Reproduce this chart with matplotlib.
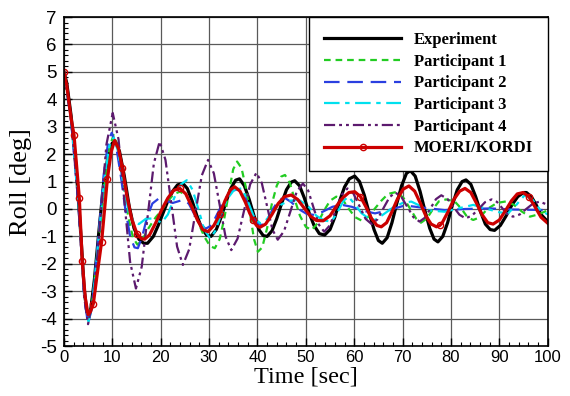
import matplotlib
matplotlib.use("Agg")
import matplotlib.pyplot as plt
from matplotlib.lines import Line2D
from matplotlib.ticker import MultipleLocator

plt.rcParams['axes.unicode_minus'] = False

# time [s], roll [deg]
exp_t = [0, 0.6, 1.5, 2.5, 3.5, 4.2, 4.7, 5.1, 5.6, 6.3, 7.2, 8.2, 9.2, 10.0, 10.7, 11.5, 12.5,
         13.5, 14.5, 15.5, 16.5, 17.3, 18.5, 19.5, 20.5, 21.5, 22.5, 23.5, 24.6, 25.5, 26.5,
         27.5, 28.5, 29.5, 30.4, 31.5, 32.5, 33.5, 34.5, 35.5, 36.3, 37.3, 38.3, 39.3, 40.3,
         41.2, 42.0, 43.0, 44.0, 45.0, 46.0, 47.0, 47.7, 48.7, 49.7, 50.7, 51.7, 52.8, 53.9,
         55.0, 56.0, 57.0, 58.0, 59.0, 60.1, 61.1, 62.1, 63.1, 64.1, 65.0, 65.8, 66.8, 67.8,
         68.8, 69.8, 70.8, 71.6, 72.6, 73.6, 74.6, 75.6, 76.5, 77.3, 78.3, 79.3, 80.3, 81.3,
         82.3, 83.1, 84.1, 85.1, 86.1, 87.1, 88.1, 89.0, 90.2, 91.4, 92.6, 93.8, 95.0, 95.6,
         96.6, 97.6, 98.6, 100]
exp_v = [5.0, 4.6, 3.4, 1.6, -0.9, -2.9, -3.7, -3.95, -3.6, -2.6, -0.9, 0.9, 2.0, 2.4, 2.45,
         2.1, 1.2, 0.1, -0.7, -1.1, -1.25, -1.25, -1.0, -0.6, -0.15, 0.3, 0.65, 0.88, 0.93,
         0.75, 0.3, -0.25, -0.7, -0.95, -1.0, -0.75, -0.3, 0.25, 0.75, 1.05, 1.1, 0.85, 0.35,
         -0.25, -0.75, -0.97, -1.0, -0.8, -0.35, 0.2, 0.7, 0.98, 1.03, 0.85, 0.4, -0.15, -0.6,
         -0.9, -0.95, -0.75, -0.3, 0.3, 0.8, 1.1, 1.2, 1.0, 0.5, -0.15, -0.75, -1.15, -1.25,
         -1.05, -0.5, 0.2, 0.85, 1.3, 1.4, 1.2, 0.65, -0.05, -0.7, -1.1, -1.2, -1.0, -0.5, 0.15,
         0.7, 1.0, 1.06, 0.9, 0.45, -0.1, -0.55, -0.75, -0.78, -0.6, -0.25, 0.15, 0.45, 0.6,
         0.6, 0.45, 0.15, -0.2, -0.46]

p1_t = [0, 1.5, 3.0, 4.2, 5.0, 5.8, 7.0, 8.5, 9.5, 10.3, 11.2, 12.3, 13.3, 14.3, 15.2, 16.3,
        17.5, 19.0, 20.2, 21.5, 22.8, 24.0, 25.3, 26.5, 27.8, 29.0, 30.2, 31.2, 32.2, 33.2,
        34.2, 35.0, 35.8, 36.7, 37.6, 38.5, 39.3, 40.1, 41.0, 42.0, 43.0, 44.0, 44.9, 45.7,
        46.7, 47.7, 48.8, 50.0, 51.2, 52.5, 53.8, 55.0, 56.3, 57.6, 58.9, 60.2, 61.5, 62.8,
        64.2, 65.6, 67.0, 68.7, 70.2, 71.6, 72.8, 73.8, 75.0, 76.3, 77.5, 79.0, 80.8, 82.2,
        83.4, 84.6, 86.0, 87.5, 89.5, 91.5, 93.0, 94.7, 96.3, 98.0, 100]
p1_v = [5.0, 3.3, 0.4, -3.0, -4.0, -3.5, -1.5, 1.0, 2.3, 2.7, 2.2, 1.0, -0.3, -1.05, -1.3,
        -1.1, -0.7, -0.3, -0.05, 0.3, 0.55, 0.63, 0.5, 0.1, -0.5, -1.0, -1.35, -1.43, -1.1,
        -0.3, 0.7, 1.45, 1.73, 1.5, 0.8, -0.2, -1.1, -1.56, -1.4, -0.7, 0.2, 0.85, 1.18, 1.24,
        0.95, 0.35, -0.25, -0.65, -0.77, -0.5, -0.05, 0.3, 0.45, 0.35, 0.0, -0.3, -0.42, -0.3,
        0.0, 0.3, 0.55, 0.62, 0.4, 0.0, -0.35, -0.5, -0.35, 0.0, 0.28, 0.35, 0.27, 0.0, -0.3,
        -0.4, -0.3, 0.0, 0.22, 0.28, 0.15, -0.1, -0.28, -0.2, -0.05]

p2_t = [0, 1.5, 3.0, 4.2, 5.0, 5.8, 7.0, 8.2, 9.2, 9.9, 10.7, 11.7, 12.7, 13.7, 14.6, 15.3,
        16.2, 17.2, 18.3, 19.6, 21.0, 22.5, 24.6, 25.8, 27.0, 28.2, 29.3, 30.5, 31.8, 33.2,
        34.6, 36.0, 37.3, 38.5, 39.6, 40.8, 42.0, 43.2, 44.5, 45.7, 47.0, 48.5, 50.2, 51.9,
        53.5, 55.5, 57.5, 59.5, 61.5, 64.3, 67.0, 70.5, 74.0, 78.7, 83.0, 88.0, 93.0, 100]
p2_v = [5.0, 3.2, 0.2, -3.2, -4.2, -3.6, -1.3, 1.2, 2.5, 2.78, 2.4, 1.3, 0.0, -1.0, -1.4,
        -1.43, -1.0, -0.3, 0.2, 0.38, 0.3, 0.22, 0.33, 0.2, -0.2, -0.55, -0.72, -0.6, -0.15,
        0.35, 0.65, 0.72, 0.5, 0.0, -0.45, -0.6, -0.4, 0.0, 0.35, 0.4, 0.25, 0.0, -0.18, -0.22,
        -0.1, 0.08, 0.15, 0.08, -0.05, -0.16, -0.05, 0.13, 0.05, -0.04, 0.0, 0.02, -0.02, -0.04]

p3_t = [0, 1.5, 3.0, 4.2, 5.1, 5.9, 7.0, 8.3, 9.4, 10.3, 11.2, 12.3, 13.4, 14.5, 15.5, 17.0,
        18.5, 20.2, 21.5, 22.8, 24.2, 25.4, 26.6, 27.8, 29.0, 30.2, 31.3, 32.5, 33.7, 35.2,
        36.7, 38.0, 39.2, 40.5, 41.8, 43.2, 44.8, 46.5, 48.6, 50.5, 52.2, 53.8, 55.3, 56.6,
        57.8, 58.8, 60.0, 61.5, 63.0, 64.3, 66.0, 68.0, 70.0, 71.8, 73.8, 75.5, 78.7, 81.0,
        84.6, 87.5, 90.0, 91.8, 93.5, 95.2, 96.8, 98.5, 100]
p3_v = [5.0, 3.3, 0.3, -3.1, -4.1, -3.5, -1.4, 1.0, 2.3, 2.6, 2.1, 0.9, -0.1, -0.5, -0.55,
        -0.35, -0.35, -0.5, -0.2, 0.4, 0.9, 1.05, 0.7, 0.0, -0.75, -1.07, -0.8, -0.2, 0.35,
        0.7, 0.75, 0.3, -0.25, -0.52, -0.4, -0.1, 0.15, 0.3, 0.33, 0.1, -0.25, -0.42, -0.46,
        -0.1, 0.3, 0.45, 0.2, -0.15, -0.35, -0.4, -0.2, 0.05, 0.22, 0.27, 0.1, -0.05, -0.1,
        0.0, 0.15, 0.0, -0.12, -0.16, 0.15, 0.5, 0.35, -0.05, -0.2]

p4_t = [0, 1.5, 3.0, 4.2, 5.0, 6.3, 7.55, 8.8, 10.1, 11.3, 12.5, 13.7, 14.9, 16.1, 17.35,
        18.6, 19.8, 21.0, 22.2, 23.4, 24.6, 25.9, 27.2, 28.5, 29.8, 31.0, 32.2, 33.4, 34.6,
        35.9, 37.2, 38.5, 39.8, 40.9, 42.0, 43.1, 44.2, 45.5, 46.8, 48.1, 49.4, 50.5, 51.6,
        52.7, 53.8, 55.0, 56.2, 57.4, 58.6, 59.85, 61.1, 62.35, 63.6, 64.8, 66.05, 67.3, 68.5,
        69.75, 71.0, 72.25, 73.5, 74.6, 75.75, 76.9, 78.0, 79.25, 80.5, 81.75, 83.0, 84.35,
        85.7, 87.05, 88.4, 89.5, 90.6, 91.7, 92.8, 94.2, 95.55, 96.9, 98.3, 100]
p4_v = [5.0, 3.3, 0.2, -3.2, -4.2, -3.05, -0.35, 2.35, 3.5, 2.54, 0.3, -1.94, -2.9, -2.1,
        -0.22, 1.66, 2.46, 1.79, 0.21, -1.37, -2.04, -1.47, -0.13, 1.22, 1.79, 1.3, 0.15, -1.0,
        -1.5, -1.08, -0.09, 0.9, 1.32, 0.95, 0.1, -0.75, -1.12, -0.81, -0.1, 0.62, 0.93, 0.67,
        0.05, -0.57, -0.83, -0.59, -0.04, 0.51, 0.75, 0.56, 0.1, -0.36, -0.55, -0.38, 0.03,
        0.43, 0.6, 0.44, 0.07, -0.3, -0.46, -0.32, 0.02, 0.36, 0.5, 0.37, 0.08, -0.21, -0.34,
        -0.24, 0.0, 0.25, 0.35, 0.26, 0.03, -0.19, -0.28, -0.2, 0.0, 0.19, 0.27, 0.15]

moeri_t = [0, 0.6, 1.5, 2.1, 3.2, 3.8, 4.4, 5.0, 5.5, 6.1, 6.8, 7.8, 9.0, 9.8, 10.5, 11.3,
           12.1, 13.0, 14.0, 15.1, 16.0, 16.7, 17.7, 19.0, 20.3, 21.5, 22.7, 24.0, 25.2, 26.4,
           27.6, 28.7, 29.8, 31.0, 32.2, 33.3, 34.4, 35.3, 36.4, 37.5, 38.4, 39.1, 39.8, 40.5,
           41.7, 43.0, 44.3, 45.6, 47.0, 48.3, 49.6, 50.9, 52.2, 53.6, 55.0, 56.3, 57.6, 58.9,
           60.1, 61.3, 62.5, 63.6, 64.7, 65.6, 66.7, 67.8, 68.9, 70.1, 71.3, 72.5, 73.7, 74.8,
           75.9, 77.0, 77.7, 78.2, 79.4, 80.6, 81.8, 82.9, 84.1, 85.3, 86.4, 87.6, 88.7, 90.0,
           91.3, 92.5, 93.7, 94.9, 96.1, 97.3, 98.6, 100]
moeri_v = [5.0, 4.5, 3.3, 2.7, 0.4, -1.9, -3.2, -3.85, -3.75, -3.45, -2.5, -1.2, 1.1, 2.1,
           2.5, 2.2, 1.5, 0.5, -0.35, -0.9, -1.08, -1.1, -0.95, -0.5, 0.0, 0.4, 0.68, 0.75,
           0.55, 0.1, -0.4, -0.75, -0.83, -0.6, -0.2, 0.3, 0.7, 0.81, 0.65, 0.25, -0.15, -0.4,
           -0.6, -0.67, -0.55, -0.2, 0.2, 0.45, 0.51, 0.35, 0.05, -0.25, -0.42, -0.43, -0.25,
           0.1, 0.4, 0.6, 0.63, 0.45, 0.05, -0.35, -0.6, -0.65, -0.5, -0.1, 0.35, 0.72, 0.84,
           0.65, 0.2, -0.25, -0.55, -0.65, -0.6, -0.5, -0.1, 0.35, 0.65, 0.75, 0.6, 0.2, -0.2,
           -0.5, -0.55, -0.4, -0.05, 0.3, 0.55, 0.6, 0.45, 0.1, -0.3, -0.52]
# samples that carry a circle marker
moeri_mark_t = [0, 2.1, 3.2, 3.8, 6.1, 7.8, 9.0, 12.1, 15.1, 24.0, 32.2, 39.1, 61.3, 77.7, 96.1]

labels = ['Experiment', 'Participant 1', 'Participant 2', 'Participant 3', 'Participant 4',
          'MOERI/KORDI']

fig = plt.figure(figsize=(5.7, 3.96), dpi=100)
ax = fig.add_axes([0.112, 0.126, 0.849, 0.831])

ax.plot(exp_t, exp_v, color='black', lw=2.3)
ax.plot(p1_t, p1_v, color='#22cc22', lw=1.6, dashes=(3, 2.2))
ax.plot(p2_t, p2_v, color='#2a3fe0', lw=1.6, dashes=(7, 3.5))
ax.plot(p3_t, p3_v, color='#00e0ee', lw=1.6, dashes=(7, 2.5, 2, 2.5))
ax.plot(p4_t, p4_v, color='#5c1a6e', lw=1.6, dashes=(5, 1.8, 1.3, 1.8, 1.3, 1.8))
ax.plot(moeri_t, moeri_v, color='#cc0000', lw=2.3)
mk_idx = [moeri_t.index(t) for t in moeri_mark_t]
ax.plot([moeri_t[i] for i in mk_idx], [moeri_v[i] for i in mk_idx], ls='none',
        marker='o', ms=4.5, mfc='none', mec='#cc0000', mew=1.0)

ax.set_xlim(0, 100)
ax.set_ylim(-5, 7)
ax.xaxis.set_major_locator(MultipleLocator(10))
ax.xaxis.set_minor_locator(MultipleLocator(2))
ax.yaxis.set_major_locator(MultipleLocator(1))
ax.yaxis.set_minor_locator(MultipleLocator(0.2))
ax.tick_params(which='both', direction='in', top=False, right=False)
ax.tick_params(which='major', length=6, width=1)
ax.tick_params(which='minor', length=3, width=0.8)
ax.tick_params(axis='x', labelsize=12, pad=3)
ax.tick_params(axis='y', labelsize=13.5, pad=5)
for lb in ax.get_xticklabels() + ax.get_yticklabels():
    lb.set_family('Liberation Sans')
ax.grid(True, which='major', color='0.35', lw=0.9)
ax.set_axisbelow(True)
for s in ax.spines.values():
    s.set_linewidth(1.2)

ax.set_xlabel('Time [sec]', family='Liberation Serif', fontsize=17.5, labelpad=1)
ax.set_ylabel('Roll [deg]', family='Liberation Serif', fontsize=19)
ax.yaxis.set_label_coords(-0.066, 0.5)

handles = [
    Line2D([], [], color='black', lw=2.3),
    Line2D([], [], color='#22cc22', lw=1.6, dashes=(3, 2.2)),
    Line2D([], [], color='#2a3fe0', lw=1.6, dashes=(7, 3.5)),
    Line2D([], [], color='#00e0ee', lw=1.6, dashes=(7, 2.5, 2, 2.5)),
    Line2D([], [], color='#5c1a6e', lw=1.6, dashes=(5, 1.8, 1.3, 1.8, 1.3, 1.8)),
    Line2D([], [], color='#cc0000', lw=2.3, marker='o', ms=4.5, mfc='none', mec='#cc0000'),
]
leg = ax.legend(handles, labels, loc='upper right', bbox_to_anchor=(1.0, 1.0),
                borderaxespad=0, fancybox=False, framealpha=1, edgecolor='black',
                prop={'family': 'Liberation Serif', 'weight': 'bold', 'size': 12},
                handlelength=4.6, labelspacing=0.34, borderpad=0.9, handletextpad=0.75)
leg.get_frame().set_linewidth(1.0)

fig.savefig('out.png', dpi=100)
